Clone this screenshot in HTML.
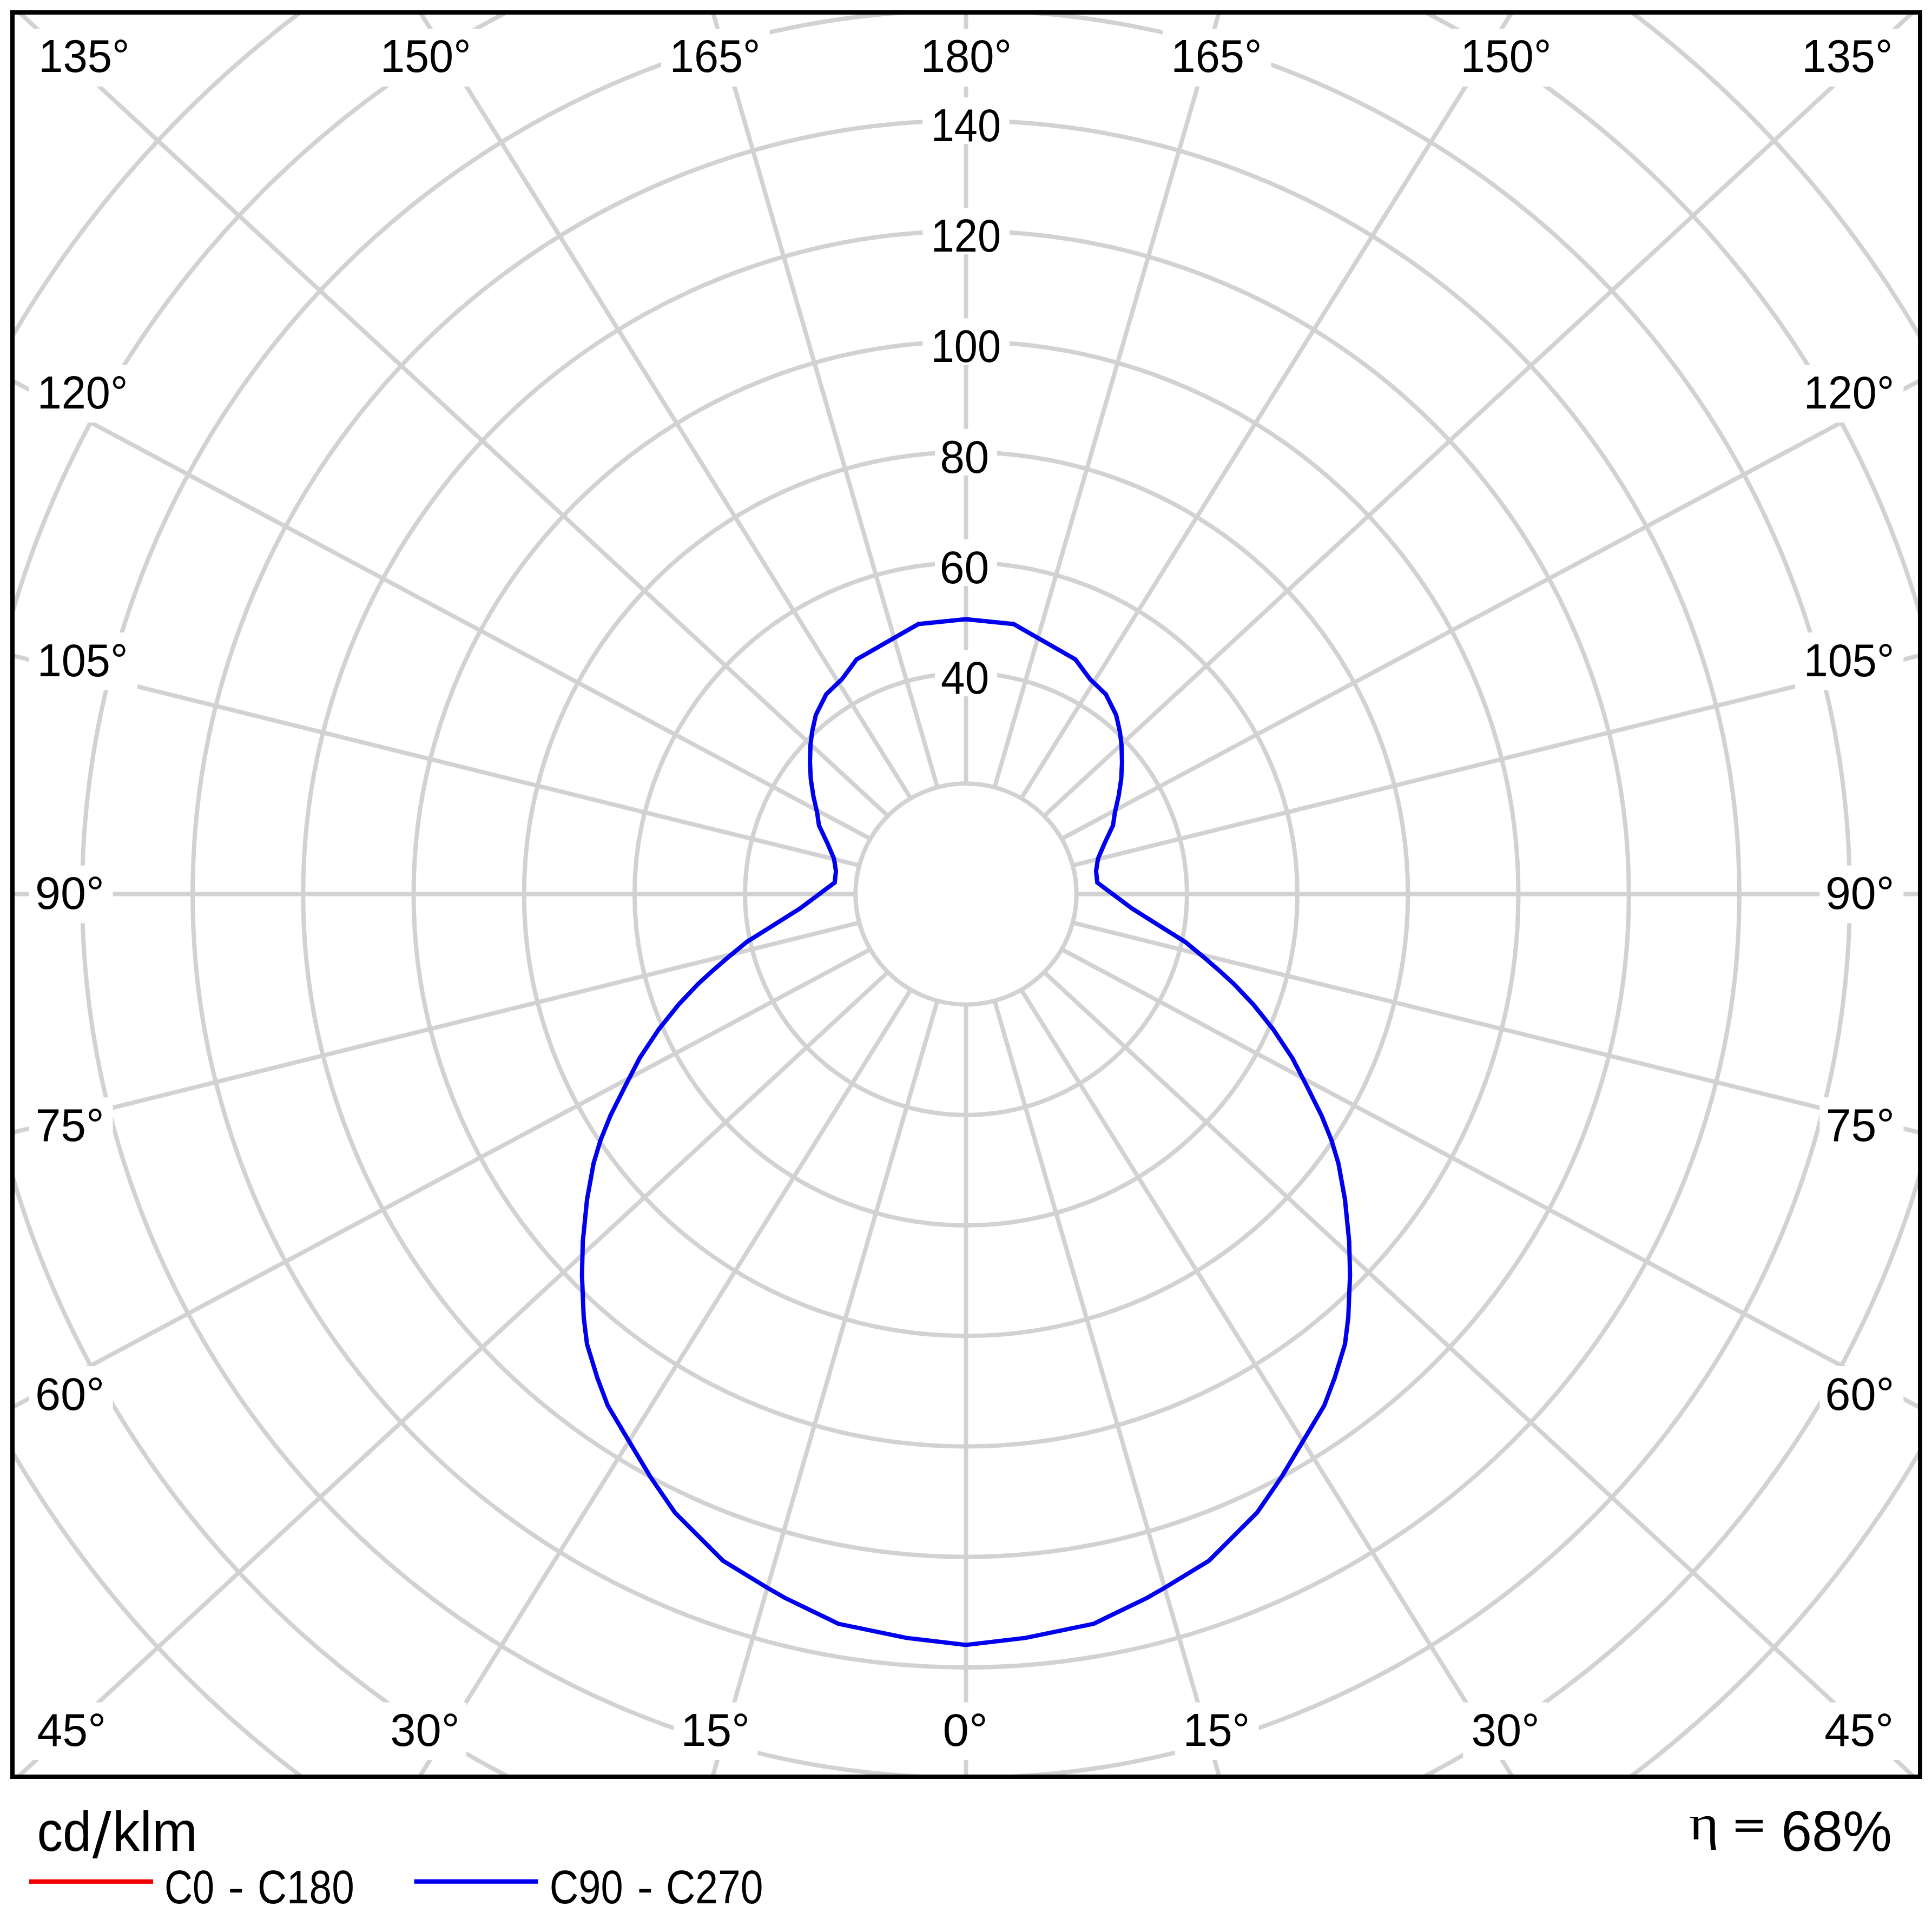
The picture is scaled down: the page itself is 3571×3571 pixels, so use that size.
<!DOCTYPE html><html><head><meta charset="utf-8"><style>html,body{margin:0;padding:0;background:#fff;}svg{display:block;}</style></head><body><svg width="3571" height="3571" viewBox="0 0 3571 3571">
<rect x="0" y="0" width="3571" height="3571" fill="#fff"/>
<defs><clipPath id="fr"><rect x="27" y="27" width="3518" height="3253"/></clipPath></defs>
<g clip-path="url(#fr)">
<circle cx="1785.5" cy="1652.5" r="204.20" fill="none" stroke="#d2d2d2" stroke-width="8"/>
<circle cx="1785.5" cy="1652.5" r="408.40" fill="none" stroke="#d2d2d2" stroke-width="8"/>
<circle cx="1785.5" cy="1652.5" r="612.60" fill="none" stroke="#d2d2d2" stroke-width="8"/>
<circle cx="1785.5" cy="1652.5" r="816.80" fill="none" stroke="#d2d2d2" stroke-width="8"/>
<circle cx="1785.5" cy="1652.5" r="1021.00" fill="none" stroke="#d2d2d2" stroke-width="8"/>
<circle cx="1785.5" cy="1652.5" r="1225.20" fill="none" stroke="#d2d2d2" stroke-width="8"/>
<circle cx="1785.5" cy="1652.5" r="1429.40" fill="none" stroke="#d2d2d2" stroke-width="8"/>
<circle cx="1785.5" cy="1652.5" r="1633.60" fill="none" stroke="#d2d2d2" stroke-width="8"/>
<circle cx="1785.5" cy="1652.5" r="1837.80" fill="none" stroke="#d2d2d2" stroke-width="8"/>
<circle cx="1785.5" cy="1652.5" r="2042.00" fill="none" stroke="#d2d2d2" stroke-width="8"/>
<line x1="1989.70" y1="1652.50" x2="5989.70" y2="1652.50" stroke="#d2d2d2" stroke-width="8"/>
<line x1="1982.74" y1="1599.65" x2="5865.26" y2="637.34" stroke="#d2d2d2" stroke-width="8"/>
<line x1="1962.34" y1="1550.40" x2="5490.69" y2="-333.94" stroke="#d2d2d2" stroke-width="8"/>
<line x1="1929.89" y1="1508.11" x2="4866.27" y2="-1208.08" stroke="#d2d2d2" stroke-width="8"/>
<line x1="1887.60" y1="1475.66" x2="4005.53" y2="-1917.63" stroke="#d2d2d2" stroke-width="8"/>
<line x1="1838.35" y1="1455.26" x2="2951.28" y2="-2386.80" stroke="#d2d2d2" stroke-width="8"/>
<line x1="1785.50" y1="1448.30" x2="1785.50" y2="-2551.70" stroke="#d2d2d2" stroke-width="8"/>
<line x1="1732.65" y1="1455.26" x2="619.72" y2="-2386.80" stroke="#d2d2d2" stroke-width="8"/>
<line x1="1683.40" y1="1475.66" x2="-434.53" y2="-1917.63" stroke="#d2d2d2" stroke-width="8"/>
<line x1="1641.11" y1="1508.11" x2="-1295.27" y2="-1208.08" stroke="#d2d2d2" stroke-width="8"/>
<line x1="1608.66" y1="1550.40" x2="-1919.69" y2="-333.94" stroke="#d2d2d2" stroke-width="8"/>
<line x1="1588.26" y1="1599.65" x2="-2294.26" y2="637.34" stroke="#d2d2d2" stroke-width="8"/>
<line x1="1581.30" y1="1652.50" x2="-2418.70" y2="1652.50" stroke="#d2d2d2" stroke-width="8"/>
<line x1="1588.26" y1="1705.35" x2="-2294.26" y2="2667.66" stroke="#d2d2d2" stroke-width="8"/>
<line x1="1608.66" y1="1754.60" x2="-1919.69" y2="3638.94" stroke="#d2d2d2" stroke-width="8"/>
<line x1="1641.11" y1="1796.89" x2="-1295.27" y2="4513.08" stroke="#d2d2d2" stroke-width="8"/>
<line x1="1683.40" y1="1829.34" x2="-434.53" y2="5222.63" stroke="#d2d2d2" stroke-width="8"/>
<line x1="1732.65" y1="1849.74" x2="619.72" y2="5691.80" stroke="#d2d2d2" stroke-width="8"/>
<line x1="1785.50" y1="1856.70" x2="1785.50" y2="5856.70" stroke="#d2d2d2" stroke-width="8"/>
<line x1="1838.35" y1="1849.74" x2="2951.28" y2="5691.80" stroke="#d2d2d2" stroke-width="8"/>
<line x1="1887.60" y1="1829.34" x2="4005.53" y2="5222.63" stroke="#d2d2d2" stroke-width="8"/>
<line x1="1929.89" y1="1796.89" x2="4866.27" y2="4513.08" stroke="#d2d2d2" stroke-width="8"/>
<line x1="1962.34" y1="1754.60" x2="5490.69" y2="3638.94" stroke="#d2d2d2" stroke-width="8"/>
<line x1="1982.74" y1="1705.35" x2="5865.26" y2="2667.66" stroke="#d2d2d2" stroke-width="8"/>
</g>
<rect x="53.60" y="53.00" width="200.50" height="107.00" fill="#fff"/>
<rect x="687.15" y="53.00" width="200.50" height="107.00" fill="#fff"/>
<rect x="1222.05" y="53.00" width="200.50" height="107.00" fill="#fff"/>
<rect x="1686.25" y="53.00" width="200.50" height="107.00" fill="#fff"/>
<rect x="2148.85" y="53.00" width="200.50" height="107.00" fill="#fff"/>
<rect x="2683.95" y="53.00" width="200.50" height="107.00" fill="#fff"/>
<rect x="3317.90" y="53.00" width="200.50" height="107.00" fill="#fff"/>
<rect x="53.60" y="3146.50" width="155.00" height="106.50" fill="#fff"/>
<rect x="707.05" y="3146.50" width="155.00" height="106.50" fill="#fff"/>
<rect x="1245.35" y="3146.50" width="155.00" height="106.50" fill="#fff"/>
<rect x="1728.55" y="3146.50" width="109.50" height="106.50" fill="#fff"/>
<rect x="2171.65" y="3146.50" width="155.00" height="106.50" fill="#fff"/>
<rect x="2704.10" y="3146.50" width="155.00" height="106.50" fill="#fff"/>
<rect x="3363.40" y="3146.50" width="155.00" height="106.50" fill="#fff"/>
<rect x="53.60" y="674.40" width="200.50" height="106.60" fill="#fff"/>
<rect x="53.60" y="1169.10" width="200.50" height="106.60" fill="#fff"/>
<rect x="53.60" y="1599.80" width="155.00" height="106.60" fill="#fff"/>
<rect x="53.60" y="2028.30" width="155.00" height="106.60" fill="#fff"/>
<rect x="53.60" y="2525.00" width="155.00" height="106.60" fill="#fff"/>
<rect x="3317.90" y="674.40" width="200.50" height="106.60" fill="#fff"/>
<rect x="3317.90" y="1169.10" width="200.50" height="106.60" fill="#fff"/>
<rect x="3363.40" y="1599.80" width="155.00" height="106.60" fill="#fff"/>
<rect x="3363.40" y="2028.30" width="155.00" height="106.60" fill="#fff"/>
<rect x="3363.40" y="2525.00" width="155.00" height="106.60" fill="#fff"/>
<rect x="1728.00" y="1201.10" width="115.00" height="86.00" fill="#fff"/>
<rect x="1728.00" y="996.90" width="115.00" height="86.00" fill="#fff"/>
<rect x="1728.00" y="792.70" width="115.00" height="86.00" fill="#fff"/>
<rect x="1705.25" y="588.50" width="160.50" height="86.00" fill="#fff"/>
<rect x="1705.25" y="384.30" width="160.50" height="86.00" fill="#fff"/>
<rect x="1705.25" y="180.10" width="160.50" height="86.00" fill="#fff"/>
<path d="M1785.5,3040.4 L1895.6,3027.4 L2021.6,3001.3 L2050.0,2987.3 L2120.0,2953.5 L2152.5,2934.9 L2234.5,2884.8 L2323.4,2796.0 L2368.8,2729.9 L2409.7,2661.6 L2447.6,2598.1 L2466.9,2546.9 L2486.0,2484.4 L2492.1,2434.8 L2495.3,2357.1 L2493.8,2295.0 L2486.0,2217.4 L2473.8,2150.0 L2461.2,2108.0 L2443.0,2062.7 L2415.9,2008.3 L2388.8,1955.8 L2352.5,1901.4 L2316.2,1856.2 L2280.0,1818.1 L2257.0,1797.0 L2226.0,1770.1 L2190.8,1741.1 L2151.4,1716.3 L2092.7,1679.4 L2056.6,1652.5 L2028.2,1631.3 L2025.9,1610.1 L2029.5,1587.1 L2041.3,1559.4 L2057.2,1525.8 L2060.7,1501.9 L2067.7,1470.8 L2072.4,1439.8 L2073.9,1408.7 L2073.0,1377.6 L2070.0,1352.8 L2063.1,1321.7 L2044.0,1283.4 L2014.8,1255.3 L1987.7,1218.9 L1873.5,1153.5 L1785.5,1144.5 L1697.5,1153.5 L1583.3,1218.9 L1556.2,1255.3 L1527.0,1283.4 L1507.9,1321.7 L1501.0,1352.8 L1498.0,1377.6 L1497.1,1408.7 L1498.6,1439.8 L1503.3,1470.8 L1510.3,1501.9 L1513.8,1525.8 L1529.7,1559.4 L1541.5,1587.1 L1545.1,1610.1 L1542.8,1631.3 L1514.4,1652.5 L1478.3,1679.4 L1419.6,1716.3 L1380.2,1741.1 L1345.0,1770.1 L1314.0,1797.0 L1291.0,1818.1 L1254.8,1856.2 L1218.5,1901.4 L1182.2,1955.8 L1155.1,2008.3 L1128.0,2062.7 L1109.8,2108.0 L1097.2,2150.0 L1085.0,2217.4 L1077.2,2295.0 L1075.7,2357.1 L1078.9,2434.8 L1085.0,2484.4 L1104.1,2546.9 L1123.4,2598.1 L1161.3,2661.6 L1202.2,2729.9 L1247.6,2796.0 L1336.5,2884.8 L1418.5,2934.9 L1451.0,2953.5 L1521.0,2987.3 L1549.4,3001.3 L1675.4,3027.4 Z" fill="none" stroke="#0000ee" stroke-width="8" stroke-linejoin="miter"/>
<text x="71.30" y="133.10" font-size="86" font-family='"Liberation Sans", sans-serif' fill="#000" textLength="168.28" lengthAdjust="spacingAndGlyphs">135°</text>
<text x="702.93" y="133.10" font-size="86" font-family='"Liberation Sans", sans-serif' fill="#000" textLength="167.64" lengthAdjust="spacingAndGlyphs">150°</text>
<text x="1237.83" y="133.10" font-size="86" font-family='"Liberation Sans", sans-serif' fill="#000" textLength="167.64" lengthAdjust="spacingAndGlyphs">165°</text>
<text x="1701.70" y="133.10" font-size="86" font-family='"Liberation Sans", sans-serif' fill="#000" textLength="168.28" lengthAdjust="spacingAndGlyphs">180°</text>
<text x="2164.52" y="133.10" font-size="86" font-family='"Liberation Sans", sans-serif' fill="#000" textLength="167.86" lengthAdjust="spacingAndGlyphs">165°</text>
<text x="2699.83" y="133.10" font-size="86" font-family='"Liberation Sans", sans-serif' fill="#000" textLength="167.43" lengthAdjust="spacingAndGlyphs">150°</text>
<text x="3330.62" y="133.10" font-size="86" font-family='"Liberation Sans", sans-serif' fill="#000" textLength="167.86" lengthAdjust="spacingAndGlyphs">135°</text>
<text x="68.57" y="3226.50" font-size="86" font-family='"Liberation Sans", sans-serif' fill="#000" textLength="127.29" lengthAdjust="spacingAndGlyphs">45°</text>
<text x="721.27" y="3226.50" font-size="86" font-family='"Liberation Sans", sans-serif' fill="#000" textLength="128.44" lengthAdjust="spacingAndGlyphs">30°</text>
<text x="1258.48" y="3226.50" font-size="86" font-family='"Liberation Sans", sans-serif' fill="#000" textLength="127.37" lengthAdjust="spacingAndGlyphs">15°</text>
<text x="1742.60" y="3226.50" font-size="86" font-family='"Liberation Sans", sans-serif' fill="#000" textLength="83.23" lengthAdjust="spacingAndGlyphs">0°</text>
<text x="2186.78" y="3226.50" font-size="86" font-family='"Liberation Sans", sans-serif' fill="#000" textLength="123.42" lengthAdjust="spacingAndGlyphs">15°</text>
<text x="2719.42" y="3226.50" font-size="86" font-family='"Liberation Sans", sans-serif' fill="#000" textLength="126.19" lengthAdjust="spacingAndGlyphs">30°</text>
<text x="3372.36" y="3226.50" font-size="86" font-family='"Liberation Sans", sans-serif' fill="#000" textLength="127.60" lengthAdjust="spacingAndGlyphs">45°</text>
<text x="68.73" y="754.90" font-size="86" font-family='"Liberation Sans", sans-serif' fill="#000" textLength="167.64" lengthAdjust="spacingAndGlyphs">120°</text>
<text x="68.73" y="1249.60" font-size="86" font-family='"Liberation Sans", sans-serif' fill="#000" textLength="167.64" lengthAdjust="spacingAndGlyphs">105°</text>
<text x="64.94" y="1680.30" font-size="86" font-family='"Liberation Sans", sans-serif' fill="#000" textLength="127.73" lengthAdjust="spacingAndGlyphs">90°</text>
<text x="65.70" y="2108.80" font-size="86" font-family='"Liberation Sans", sans-serif' fill="#000" textLength="126.84" lengthAdjust="spacingAndGlyphs">75°</text>
<text x="64.90" y="2605.50" font-size="86" font-family='"Liberation Sans", sans-serif' fill="#000" textLength="128.20" lengthAdjust="spacingAndGlyphs">60°</text>
<text x="3333.83" y="754.90" font-size="86" font-family='"Liberation Sans", sans-serif' fill="#000" textLength="167.43" lengthAdjust="spacingAndGlyphs">120°</text>
<text x="3333.83" y="1249.60" font-size="86" font-family='"Liberation Sans", sans-serif' fill="#000" textLength="167.43" lengthAdjust="spacingAndGlyphs">105°</text>
<text x="3373.95" y="1680.30" font-size="86" font-family='"Liberation Sans", sans-serif' fill="#000" textLength="127.52" lengthAdjust="spacingAndGlyphs">90°</text>
<text x="3374.68" y="2108.80" font-size="86" font-family='"Liberation Sans", sans-serif' fill="#000" textLength="127.38" lengthAdjust="spacingAndGlyphs">75°</text>
<text x="3373.30" y="2605.50" font-size="86" font-family='"Liberation Sans", sans-serif' fill="#000" textLength="128.20" lengthAdjust="spacingAndGlyphs">60°</text>
<text x="1739.11" y="1281.90" font-size="86" font-family='"Liberation Sans", sans-serif' fill="#000" textLength="89.07" lengthAdjust="spacingAndGlyphs">40</text>
<text x="1736.77" y="1077.70" font-size="86" font-family='"Liberation Sans", sans-serif' fill="#000" textLength="91.49" lengthAdjust="spacingAndGlyphs">60</text>
<text x="1737.40" y="873.50" font-size="86" font-family='"Liberation Sans", sans-serif' fill="#000" textLength="90.84" lengthAdjust="spacingAndGlyphs">80</text>
<text x="1720.70" y="669.30" font-size="86" font-family='"Liberation Sans", sans-serif' fill="#000" textLength="129.33" lengthAdjust="spacingAndGlyphs">100</text>
<text x="1720.70" y="465.10" font-size="86" font-family='"Liberation Sans", sans-serif' fill="#000" textLength="129.33" lengthAdjust="spacingAndGlyphs">120</text>
<text x="1720.70" y="260.90" font-size="86" font-family='"Liberation Sans", sans-serif' fill="#000" textLength="129.33" lengthAdjust="spacingAndGlyphs">140</text>
<rect x="23" y="23" width="3526" height="3261" fill="none" stroke="#000" stroke-width="8"/>
<text x="68.45" y="3421.30" font-size="104" font-family='"Liberation Sans", sans-serif' fill="#000" textLength="100.70" lengthAdjust="spacingAndGlyphs">cd</text>
<text x="207.99" y="3421.30" font-size="104" font-family='"Liberation Sans", sans-serif' fill="#000" textLength="157.06" lengthAdjust="spacingAndGlyphs">klm</text>
<polygon points="170.8,3435 179.6,3435 205.7,3347 196.9,3347" fill="#000"/>
<rect x="54" y="3473.6" width="229" height="8.3" fill="#f00000"/>
<text x="304.04" y="3518.30" font-size="87" font-family='"Liberation Sans", sans-serif' fill="#000" textLength="92.07" lengthAdjust="spacingAndGlyphs">C0</text>
<text x="421.28" y="3518.30" font-size="87" font-family='"Liberation Sans", sans-serif' fill="#000" textLength="30.14" lengthAdjust="spacingAndGlyphs">-</text>
<text x="476.00" y="3518.30" font-size="87" font-family='"Liberation Sans", sans-serif' fill="#000" textLength="178.82" lengthAdjust="spacingAndGlyphs">C180</text>
<rect x="765.6" y="3473.5" width="228.8" height="8.3" fill="#0000ee"/>
<text x="1015.84" y="3518.00" font-size="87" font-family='"Liberation Sans", sans-serif' fill="#000" textLength="135.96" lengthAdjust="spacingAndGlyphs">C90</text>
<text x="1177.53" y="3518.00" font-size="87" font-family='"Liberation Sans", sans-serif' fill="#000" textLength="29.74" lengthAdjust="spacingAndGlyphs">-</text>
<text x="1230.99" y="3518.00" font-size="87" font-family='"Liberation Sans", sans-serif' fill="#000" textLength="179.55" lengthAdjust="spacingAndGlyphs">C270</text>
<text x="3122.36" y="3400.10" font-size="90" font-family='"Liberation Serif", serif' fill="#000" textLength="55.04" lengthAdjust="spacingAndGlyphs">η</text>
<rect x="3208" y="3363.9" width="50" height="6.4" fill="#000"/><rect x="3208" y="3379.5" width="50" height="6.4" fill="#000"/>
<text x="3292.20" y="3420.80" font-size="105" font-family='"Liberation Sans", sans-serif' fill="#000" textLength="204.85" lengthAdjust="spacingAndGlyphs">68%</text>
</svg></body></html>
